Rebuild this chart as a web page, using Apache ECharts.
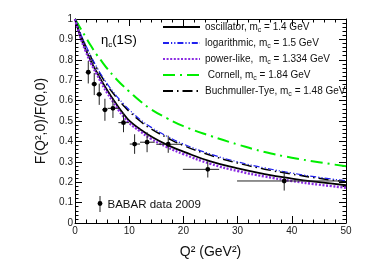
<!DOCTYPE html>
<html><head><meta charset="utf-8">
<script src="https://cdn.jsdelivr.net/npm/echarts@6/dist/echarts.min.js"></script>
<style>html,body{margin:0;padding:0;background:#fff}#c{width:374px;height:272px}</style>
</head><body><div id="c"></div>
<script>
// Curve sampling grid (Q^2 in GeV^2)
const curveQ2 = [0,1,2,3,4,5,6,7,8,9,10,12,14,17,20,25,30,35,40,45,50];
const oscillatorF  = [1,0.915,0.848,0.79,0.74,0.692,0.648,0.608,0.568,0.533,0.502,0.46,0.425,0.383,0.35,0.302,0.268,0.24,0.218,0.2,0.185];
const logarithmicF = [1,0.93,0.87,0.815,0.765,0.72,0.68,0.645,0.612,0.582,0.555,0.508,0.47,0.425,0.387,0.338,0.3,0.27,0.245,0.224,0.207];
const powerLikeF   = [1,0.91,0.84,0.78,0.73,0.68,0.635,0.595,0.555,0.52,0.49,0.45,0.413,0.372,0.338,0.29,0.255,0.228,0.206,0.188,0.173];
const cornellF     = [1,0.955,0.91,0.866,0.825,0.79,0.755,0.724,0.695,0.669,0.645,0.598,0.558,0.513,0.475,0.427,0.385,0.348,0.32,0.298,0.278];
const buchmullerF  = [1,0.928,0.866,0.81,0.76,0.714,0.673,0.637,0.604,0.574,0.547,0.5,0.462,0.418,0.38,0.332,0.294,0.264,0.24,0.219,0.202];

// BABAR 2009 data
const dataQ2   = [2.45,3.55,4.47,5.52,7.0,8.95,11.0,13.3,17.2,24.5,38.6];
const dataF    = [0.739,0.681,0.631,0.555,0.562,0.492,0.387,0.396,0.386,0.263,0.206];
const dataFErr = [0.055,0.054,0.052,0.054,0.047,0.047,0.048,0.049,0.042,0.040,0.047];
const dataQLo  = [2.0,3.05,3.97,5.02,6.0,8.0,10.1,12.0,15.0,19.9,29.9];
const dataQHi  = [2.9,4.05,4.97,6.02,8.0,10.0,12.0,14.7,19.6,26.6,49.4];

const xTicks = [0,10,20,30,40,50];
const yTicks = [0,0.1,0.2,0.3,0.4,0.5,0.6,0.7,0.8,0.9,1];

const FONT = 'Liberation Sans';
const zip = (xs, ys) => xs.map((x,i)=>[x, ys[i]]);
const subRich = {
  a:{fontFamily:FONT,fontSize:10,color:'#111'},
  s:{fontFamily:FONT,fontSize:7,color:'#111',padding:[6,0,0,0]}
};
const legendNames = {
  'oscillator':'{a|oscillator, m}{s|c}{a| = 1.4 GeV}',
  'logarithmic':'{a|logarithmic, m}{s|c}{a| = 1.5 GeV}',
  'power-like':'{a|power-like,  m}{s|c}{a| = 1.334 GeV}',
  'Cornell':'{a| Cornell, m}{s|c}{a| = 1.84 GeV}',
  'Buchmuller-Tye':'{a|Buchmuller-Tye, m}{s|c}{a| = 1.48 GeV}'
};

function lineSeries(name, ys, color, width, type, z){
  return {name, type:'line', data:zip(curveQ2, ys), smooth:true, showSymbol:false, symbol:'none',
    lineStyle:{color, width, type}, itemStyle:{color}, z, xAxisIndex:0, yAxisIndex:0, silent:true};
}

const axisCommon = {
  type:'value', axisLine:{show:true,onZero:false,lineStyle:{color:'#000',width:1}},
  splitLine:{show:false},
  axisTick:{show:true,inside:true,length:7,lineStyle:{color:'#000'}},
  minorTick:{show:true,splitNumber:5,length:3.5,lineStyle:{color:'#000'}}
};

const chart = echarts.init(document.getElementById('c'), null, {renderer:'canvas'});
chart.setOption({
  animation:false,
  backgroundColor:'#fff',
  grid:{left:75,right:28,top:19,bottom:49,containLabel:false},
  xAxis:[
    Object.assign({}, axisCommon, {min:0,max:50,interval:10,position:'bottom',
      axisLabel:{show:true,margin:3,fontFamily:FONT,fontSize:10,color:'#222',
        formatter:v=>xTicks.includes(v)?String(v):''},
      name:'Q² (GeV²)',nameLocation:'middle',nameGap:22,
      nameTextStyle:{fontFamily:FONT,fontSize:14,color:'#111'}}),
    Object.assign({}, axisCommon, {min:0,max:50,interval:10,position:'top',axisLabel:{show:false}})
  ],
  yAxis:[
    Object.assign({}, axisCommon, {min:0,max:1,interval:0.1,position:'left',
      axisLabel:{show:true,margin:2,fontFamily:FONT,fontSize:10,color:'#222',
        formatter:v=>{const t=yTicks.find(k=>Math.abs(k-v)<1e-6);return t===undefined?'':String(t);}},
      name:'F(Q²,0)/F(0,0)',nameLocation:'middle',nameGap:25,
      nameTextStyle:{fontFamily:FONT,fontSize:14,color:'#111'}}),
    Object.assign({}, axisCommon, {min:0,max:1,interval:0.1,position:'right',axisLabel:{show:false}})
  ],
  legend:{
    show:true, orient:'vertical', left:157, top:17, itemWidth:37, itemHeight:10, itemGap:4.5,
    data:['oscillator','logarithmic','power-like','Cornell','Buchmuller-Tye'],
    formatter:n=>legendNames[n],
    itemStyle:{opacity:0},
    textStyle:{fontFamily:FONT,fontSize:10,color:'#111',rich:subRich},
    selectedMode:false
  },
  graphic:[
    {type:'text', left:101, top:34, style:{
      text:'{e|η}{s|c}{e|(1S)}', rich:{
        e:{fontFamily:FONT,fontSize:13,color:'#111'},
        s:{fontFamily:FONT,fontSize:8,color:'#111',padding:[8,0,0,0]}}}},
    {type:'line', shape:{x1:100,y1:196,x2:100,y2:212}, style:{stroke:'#222',lineWidth:1}},
    {type:'circle', shape:{cx:100,cy:203.5,r:2.4}, style:{fill:'#000'}},
    {type:'text', left:107.5, top:199, style:{text:'BABAR data 2009',fontFamily:FONT,fontSize:11.5,fill:'#111'}}
  ],
  series:[
    lineSeries('Cornell', cornellF, '#00ee00', 2, [12,5,2,5], 2),
    lineSeries('Buchmuller-Tye', buchmullerF, '#000000', 1.5, [10,4,1.5,4], 3),
    lineSeries('logarithmic', logarithmicF, '#2020ee', 1.2, [6,2,1.2,2,1.2,2], 4),
    lineSeries('oscillator', oscillatorF, '#000000', 1.8, 'solid', 5),
    lineSeries('power-like', powerLikeF, '#8a2be2', 2.4, [2,1.6], 6),
    {
      name:'BABAR', type:'custom', xAxisIndex:0, yAxisIndex:0, z:10, silent:true,
      data: dataQ2.map((q,i)=>[q, dataF[i], dataFErr[i], dataQLo[i], dataQHi[i]]),
      encode:{x:0,y:1},
      renderItem:(params, api)=>{
        const q=api.value(0), f=api.value(1), e=api.value(2), lo=api.value(3), hi=api.value(4);
        const c=api.coord([q,f]), t=api.coord([q,f+e]), b=api.coord([q,f-e]);
        const l=api.coord([lo,f]), r=api.coord([hi,f]);
        const st={stroke:'#222',lineWidth:1};
        return {type:'group', children:[
          {type:'line', shape:{x1:t[0],y1:t[1],x2:b[0],y2:b[1]}, style:st},
          {type:'line', shape:{x1:l[0],y1:l[1],x2:r[0],y2:r[1]}, style:st},
          {type:'circle', shape:{cx:c[0],cy:c[1],r:2.4}, style:{fill:'#000'}}
        ]};
      }
    }
  ]
});
</script></body></html>
